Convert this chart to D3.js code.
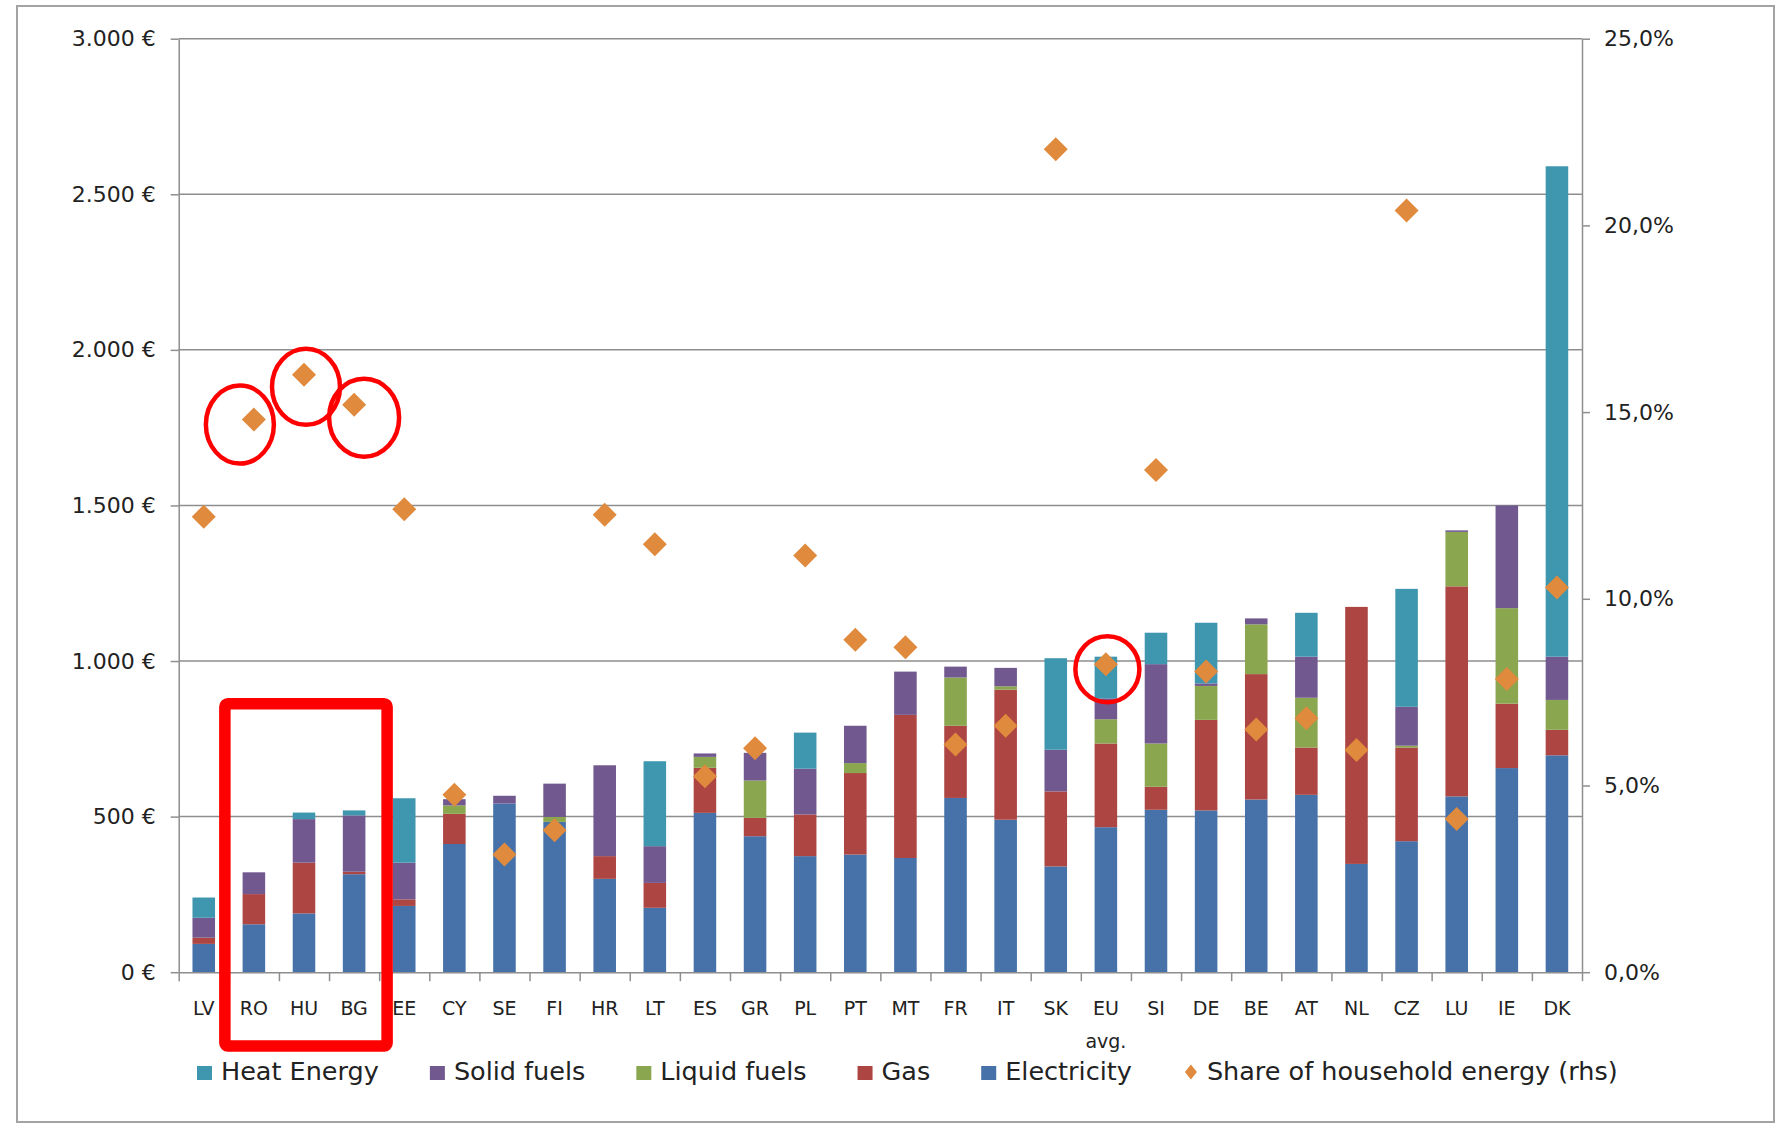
<!DOCTYPE html>
<html>
<head>
<meta charset="utf-8">
<script src="https://cdn.jsdelivr.net/npm/d3@7"></script>
<style>
  html, body { margin: 0; padding: 0; background: #fff; }
  svg { display: block; font-family: "DejaVu Sans", sans-serif; }
</style>
</head>
<body>
<div id="chart"></div>
<script>
// 1. DATA  (€ per household and year, share in %)
const countries = ["LV","RO","HU","BG","EE","CY","SE","FI","HR","LT","ES","GR","PL","PT","MT",
                   "FR","IT","SK","EU avg.","SI","DE","BE","AT","NL","CZ","LU","IE","DK"];

const electricity = [91,154,189,315,213,412,542,483,300,207,512,437,373,378,367,
                     560,490,340,466,522,520,555,570,348,421,565,656,697];
const gas         = [20,97,163,8,21,97,0,0,73,80,145,59,134,262,460,
                     232,418,241,269,74,291,403,152,826,301,675,207,82];
const liquidFuels = [0,0,0,0,0,27,0,16,0,0,35,120,0,32,0,
                     155,11,0,78,139,109,160,160,0,6,175,307,96];
const solidFuels  = [64,70,140,181,118,20,25,107,292,118,11,89,147,120,139,
                     35,59,134,67,255,8,19,132,0,125,5,330,139];
const heatEnergy  = [65,0,21,16,207,0,0,0,0,273,0,0,116,0,0,
                     0,0,294,134,101,195,0,141,0,379,0,0,1576];
const shareOfHouseholdEnergy = [12.2,14.8,16.0,15.2,12.4,4.75,3.15,3.8,12.25,11.46,5.25,6.0,11.16,8.9,8.7,
                                6.1,6.6,22.04,8.25,13.45,8.05,6.5,6.8,5.95,20.4,4.1,7.85,10.3];

const eurTicks = [0, 500, 1000, 1500, 2000, 2500, 3000];
const pctTicks = [0, 5, 10, 15, 20, 25];

// stacking order bottom -> top, legend goes the other way
const series = [
    { key: "Electricity",  values: electricity, color: "#4672a9" },
    { key: "Gas",          values: gas,         color: "#ad4542" },
    { key: "Liquid fuels", values: liquidFuels, color: "#8aa64f" },
    { key: "Solid fuels",  values: solidFuels,  color: "#71588f" },
    { key: "Heat Energy",  values: heatEnergy,  color: "#3f96af" }
];
const shareColor = "#df8a3d";

// circled points in the original
const highlighted = [
    { country: "RO", dx: -14, dy: 5,  rx: 34, ry: 39 },
    { country: "HU", dx: 2,   dy: 12, rx: 34, ry: 38 },
    { country: "BG", dx: 10,  dy: 13, rx: 35, ry: 39 },
    { country: "EU avg.", dx: 1.5, dy: 5, rx: 32, ry: 33 }
];

// 2. SETUP
const width = 1785, height = 1125;
const plot = { left: 178.7, right: 1582, top: 38.7, bottom: 972.2 };

const svg = d3.select("#chart").append("svg")
    .attr("width", width)
    .attr("height", height);

svg.append("rect")
    .attr("x", 17).attr("y", 6)
    .attr("width", 1757).attr("height", 1116)
    .attr("fill", "#fff")
    .attr("stroke", "#a3a3a3")
    .attr("stroke-width", 2);

const rows = countries.map((c, i) => {
    const r = { country: c };
    series.forEach(s => { r[s.key] = s.values[i]; });
    r.share = shareOfHouseholdEnergy[i];
    return r;
});

const x = d3.scaleBand()
    .domain(countries)
    .range([plot.left, plot.right])
    .paddingInner(0.55)
    .paddingOuter(0.275);

const xIdx = d3.scaleLinear().domain([0, countries.length]).range([plot.left, plot.right]);
const y = d3.scaleLinear().domain([0, 3000]).range([plot.bottom, plot.top]);
const yPct = d3.scaleLinear().domain([0, 25]).range([plot.bottom, plot.top]);

const loc = d3.formatLocale({ decimal: ",", thousands: ".", grouping: [3], currency: ["", "€"] });
const fmtEur = d => loc.format(",")(d) + " €";
const fmtPct = d => loc.format(".1f")(d) + "%";

const gridColor = "#8e8e8e";
const textColor = "#222";

// gridlines
svg.append("g").selectAll("line")
    .data(eurTicks.filter(d => d > 0))
    .join("line")
    .attr("x1", plot.left).attr("x2", plot.right)
    .attr("y1", d => y(d)).attr("y2", d => y(d))
    .attr("stroke", gridColor)
    .attr("stroke-width", 1.5);

// 3. BARS
const stack = d3.stack().keys(series.map(s => s.key));
const stacked = stack(rows);

svg.append("g").selectAll("g")
    .data(stacked)
    .join("g")
    .attr("fill", (d, i) => series[i].color)
    .selectAll("rect")
    .data(d => d)
    .join("rect")
    .attr("x", d => x(d.data.country))
    .attr("width", x.bandwidth())
    .attr("y", d => y(d[1]))
    .attr("height", d => Math.max(0, y(d[0]) - y(d[1])));

// 4. AXES
const axisStyle = g => {
    g.selectAll(".domain, .tick line").attr("stroke", gridColor).attr("stroke-width", 1.5);
    g.selectAll("text").attr("fill", textColor).style("font-family", "DejaVu Sans").attr("font-size", 22);
};

svg.append("g")
    .attr("transform", `translate(${plot.left},0)`)
    .call(d3.axisLeft(y).tickValues(eurTicks).tickFormat(fmtEur).tickSize(8).tickSizeOuter(0).tickPadding(15))
    .call(axisStyle);

svg.append("g")
    .attr("transform", `translate(${plot.right},0)`)
    .call(d3.axisRight(yPct).tickValues(pctTicks).tickFormat(fmtPct).tickSize(8).tickSizeOuter(0).tickPadding(14))
    .call(axisStyle);

svg.append("g")
    .attr("transform", `translate(0,${plot.bottom})`)
    .call(d3.axisBottom(xIdx).tickValues(d3.range(countries.length + 1)).tickFormat("").tickSize(9).tickSizeOuter(0))
    .call(axisStyle);

// category labels (EU avg. on two lines)
const xLabels = svg.append("g")
    .attr("font-size", 19)
    .attr("fill", textColor)
    .attr("text-anchor", "middle");

xLabels.selectAll("text")
    .data(countries)
    .join("text")
    .attr("x", d => x(d) + x.bandwidth() / 2)
    .attr("y", 1015)
    .each(function(d) {
        const parts = d.split(" ");
        d3.select(this).selectAll("tspan")
            .data(parts)
            .join("tspan")
            .attr("x", x(d) + x.bandwidth() / 2)
            .attr("dy", (p, i) => i === 0 ? 0 : 33)
            .text(p => p);
    });

// 5. SHARE DIAMONDS (right axis)
const diamond = r => `M0,${-r}L${r},0L0,${r}L${-r},0Z`;

svg.append("g").selectAll("path")
    .data(rows)
    .join("path")
    .attr("d", diamond(12))
    .attr("transform", d => `translate(${x(d.country) + x.bandwidth() / 2},${yPct(d.share)})`)
    .attr("fill", shareColor);

// 6. LEGEND
const legendItems = series.slice().reverse().map(s => ({ label: s.key, color: s.color, type: "square" }))
    .concat([{ label: "Share of household energy (rhs)", color: shareColor, type: "diamond" }]);

const legend = svg.append("g").attr("font-size", 25.5).attr("fill", textColor);
let lx = 197;
legendItems.forEach(item => {
    const g = legend.append("g").attr("transform", `translate(${lx},0)`);
    if (item.type === "square") {
        g.append("rect").attr("x", 0).attr("y", 1066).attr("width", 15).attr("height", 14).attr("fill", item.color);
    } else {
        g.append("path").attr("d", "M0,-7.5L6,0L0,7.5L-6,0Z")
            .attr("transform", "translate(8,1072)").attr("fill", item.color);
    }
    const t = g.append("text").attr("x", 24).attr("y", 1080).text(item.label);
    lx += 24 + t.node().getComputedTextLength() + 51;
});

// 7. RED ANNOTATIONS
const ann = svg.append("g").attr("fill", "none").attr("stroke", "#ff0000");

ann.append("rect")
    .attr("x", x("RO") + x.bandwidth() / 2 - 29)
    .attr("y", y(863))
    .attr("width", (x("BG") + x.bandwidth() / 2 + 33) - (x("RO") + x.bandwidth() / 2 - 29))
    .attr("height", 1046 - y(863))
    .attr("rx", 3)
    .attr("stroke-width", 11.5);

ann.selectAll("ellipse")
    .data(highlighted)
    .join("ellipse")
    .attr("cx", d => x(d.country) + x.bandwidth() / 2 + d.dx)
    .attr("cy", d => yPct(shareOfHouseholdEnergy[countries.indexOf(d.country)]) + d.dy)
    .attr("rx", d => d.rx)
    .attr("ry", d => d.ry)
    .attr("stroke-width", 4.5);
</script>
</body>
</html>
